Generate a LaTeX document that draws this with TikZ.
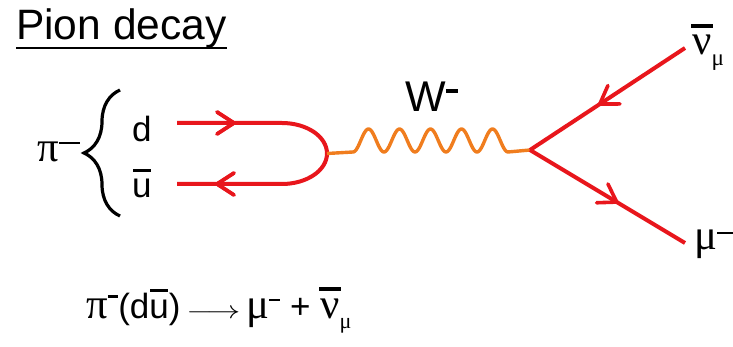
\documentclass[tikz,border=0pt]{standalone}
\usepackage{fontspec}
\setmainfont{Liberation Sans}
\newfontfamily\grk[Scale=1.22]{Liberation Serif}
\usetikzlibrary{decorations.pathreplacing,decorations.markings}
\definecolor{fred}{RGB}{232,22,28}
\definecolor{forange}{RGB}{240,125,30}
% superscript minus: #1 width, #2 raise
\newcommand\supm[2]{\raisebox{#2}{\rule{#1}{0.075em}}}
% bar over: #1 raise, #2 width, #3 content
\newcommand\ovbar[3]{\ooalign{#3\cr\hidewidth\raisebox{#1}{\rule{#2}{0.1em}}\hidewidth\cr}}
\tikzset{
  lbl/.style={anchor=base west, inner sep=0pt, font=\fontsize{35}{40}\selectfont},
  fermion/.style={draw=fred, line width=4pt, line join=round},
  boson/.style={draw=forange, line width=3.4pt, line join=round},
  chev/.style={decoration={markings, mark=at position #1 with {\draw[fred, line width=3.6pt, line cap=round, line join=miter] (-17pt,-11pt) -- (0pt,0pt) -- (-17pt,11pt);}}, postaction=decorate},
}
\begin{document}
\begin{tikzpicture}[x=1pt,y=-1pt]
\useasboundingbox (0,0) rectangle (733,347);
% title
\node[anchor=base west, inner sep=0pt, font=\fontsize{42.5}{48}\selectfont] (title) at (16,40) {Pion decay};
\draw[line width=2pt] ([yshift=-8.5pt]title.base west) -- ([yshift=-8.5pt]title.base east);
% pion and quarks
\node[lbl] (pim) at (37,162) {{\grk π}\supm{0.6em}{0.5em}};
\coordinate (brT) at (120,90);
\coordinate (brB) at (120,216);
\draw[line width=3.2pt, decorate, decoration={brace, amplitude=36pt}] (brB) -- (brT);
\node[lbl] (d) at (132,142) {d};
\node[lbl] (ub) at (132,198) {\ovbar{0.74em}{0.5em}{u}};
% quark lines
\coordinate (qt) at (177,123);
\coordinate (qb) at (177,184);
\coordinate (qv) at (327,153.5);
\coordinate (vtx) at (530,150);
\path[fermion, chev=57pt, chev=-40pt] (qt) -- (282,123) arc[start angle=-90, end angle=90, x radius=45, y radius=30.5] -- (qb);
% W boson
\path[boson] (qv) -- (353,152) -- plot[domain=0:5, samples=150, smooth] ({353+31*\x},{140.5+11.5*cos(360*\x)}) -- (vtx);
\node[anchor=base west, inner sep=0pt, font=\fontsize{43}{48}\selectfont] (W) at (405,112) {W\supm{0.28em}{0.45em}};
% leptons
\coordinate (nuend) at (685,48);
\coordinate (muend) at (685,243);
\path[fermion, chev=0.55] (nuend) -- (vtx);
\path[fermion, chev=0.56] (vtx) -- (muend);
\node[lbl] (nub) at (692,55) {\ovbar{0.78em}{0.62em}{\grk ν}\raisebox{-0.3em}{\fontsize{19}{19}\selectfont\grk μ}};
\node[lbl] (mu) at (694,250) {{\grk μ}\supm{0.5em}{0.45em}};
% reaction
\node[anchor=base west, inner sep=0pt, font=\fontsize{35}{40}\selectfont] (eq) at (86,318)
 {{\grk π}\supm{0.3em}{0.58em}(d\ovbar{0.74em}{0.5em}{u})\,\scalebox{1.35}[1]{$\longrightarrow$}\,{\grk μ}\supm{0.32em}{0.48em}\ +\ \ovbar{0.78em}{0.62em}{\grk ν}\raisebox{-0.3em}{\fontsize{18}{18}\selectfont\grk μ}};
\end{tikzpicture}
\end{document}
